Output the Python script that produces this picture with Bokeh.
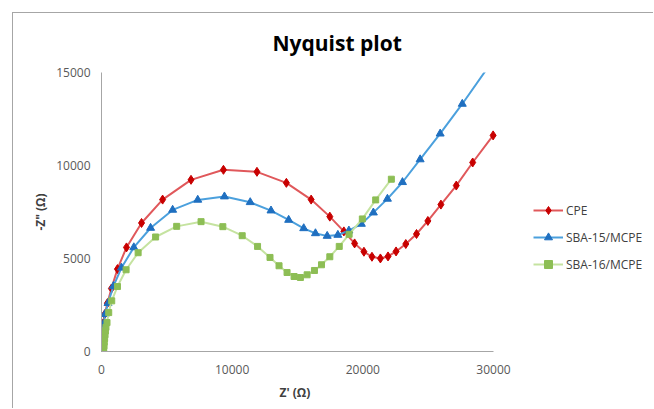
from bokeh.plotting import figure
from bokeh.models import Legend, LegendItem, Range1d, SingleIntervalTicker, Title
from bokeh.embed import file_html
from bokeh.resources import INLINE

# ---- data ----
cpe_x = [0, 40, 92, 246, 453, 760, 1221, 1912, 3064, 4677, 6851, 9333, 11897,
         14148, 16045, 17473, 18548, 19370, 20084, 20699, 21344, 21928, 22543,
         23287, 24109, 24977, 25976, 27151, 28407, 29971]
cpe_y = [0, 750, 1482, 2005, 2598, 3386, 4431, 5596, 6911, 8167, 9229, 9768, 9660,
         9067, 8167, 7251, 6458, 5811, 5364, 5094, 5003, 5111, 5380,
         5779, 6318, 7019, 7898, 8922, 10162, 11619]

sba15_x = [0, 15, 38, 169, 269, 499, 914, 1528, 2473, 3756, 5445, 7365, 9409,
           11382, 12972, 14324, 15476, 16375, 17273, 18088, 18932, 19885, 20806,
           21882, 23034, 24385, 25918, 27610, 30300]
sba15_y = [0, 450, 960, 1499, 2005, 2598, 3515, 4501, 5596, 6641, 7612, 8151, 8329,
           8022, 7574, 7071, 6621, 6351, 6210, 6264, 6496, 6857, 7466,
           8205, 9100, 10324, 11709, 13309, 16000]

sba16_x = [150, 170, 190, 210, 240, 270, 300, 340, 422, 553, 783, 1221, 1882, 2803,
           4140, 5753, 7619, 9286, 10768, 11943, 12896, 13587, 14201, 14739, 15223,
           15737, 16298, 16836, 17473, 18195, 18950, 19962, 20983, 22183]
sba16_y = [0, 150, 300, 500, 700, 900, 1100, 1300, 1553, 2092, 2722, 3493, 4394, 5310,
           6156, 6728, 6981, 6712, 6226, 5650, 5057, 4609, 4248, 4032, 3978,
           4124, 4356, 4663, 5094, 5650, 6300, 7127, 8151, 9263]

series_names = ["CPE", "SBA-15/MCPE", "SBA-16/MCPE"]
x_max, y_max = 30000, 15000

FONT = "Open Sans"

# the frame reaches the right edge so the legend is not clipped; the x axis
# itself is bounded to 0..30000 (392 px)
W, H = 641, 396
LEFT = 88
x_end = x_max * (W - LEFT) / 392.0

p = figure(width=W, height=H, output_backend="svg", toolbar_location=None,
           x_range=Range1d(0, x_end), y_range=Range1d(0, y_max),
           min_border_left=LEFT, min_border_right=0,
           min_border_top=59, min_border_bottom=58,
           title="Nyquist plot")
p.margin = (12, 0, 0, 12)
p.styles = {"border-left": "1px solid #a6a6a6", "border-top": "1px solid #a6a6a6"}

p.title.text_font = FONT
p.title.text_font_size = "21px"
p.title.text_font_style = "bold"
p.title.text_color = "#000000"
p.title.align = "left"
p.title.offset = 171
p.title.vertical_align = "middle"
p.title.standoff = 29

p.outline_line_color = None
p.xgrid.grid_line_color = None
p.ygrid.grid_line_color = None
p.background_fill_color = "white"
p.border_fill_color = "white"

p.xaxis.ticker = SingleIntervalTicker(interval=10000)
p.yaxis.ticker = SingleIntervalTicker(interval=5000)
p.xaxis.bounds = (0, x_max)
for ax in (p.xaxis, p.yaxis):
    ax.axis_line_color = "#a6a6a6"
    ax.axis_line_width = 1
    ax.major_tick_line_color = None
    ax.minor_tick_line_color = None
    ax.major_label_text_font = FONT
    ax.major_label_text_font_size = "12px"
    ax.major_label_text_color = "#595959"
    ax.axis_label_text_font = FONT
    ax.axis_label_text_font_size = "12px"
    ax.axis_label_text_font_style = "bold"
    ax.axis_label_text_color = "#404040"

p.yaxis.axis_label = '-Z" (Ω)'
p.xaxis.major_label_standoff = 7
p.yaxis.major_label_standoff = 5
p.yaxis.axis_label_standoff = 4

# x axis title, centred under the 0..30000 axis
xt = Title(text="Z' (Ω)", align="left", offset=178, vertical_align="top",
           standoff=14, text_font=FONT, text_font_size="12px",
           text_font_style="bold", text_color="#404040")
p.add_layout(xt, "below")

styles = [
    (cpe_x, cpe_y, "#e0585b", "#c80000", "diamond", 9),
    (sba15_x, sba15_y, "#4ba0dd", "#1f6fc0", "triangle", 8),
    (sba16_x, sba16_y, "#c5e3a0", "#8dbe55", "square", 6),
]

items = []
for name, (xs, ys, lc, mc, mk, sz) in zip(series_names, styles):
    rl = p.line(xs, ys, line_color=lc, line_width=2)
    rs = p.scatter(xs, ys, marker=mk, size=sz, fill_color=mc, line_color=mc)
    items.append(LegendItem(label=name, renderers=[rl, rs]))

legend = Legend(items=items, location=(432, 77), glyph_width=30, glyph_height=20,
                label_height=20, spacing=7, padding=0, margin=0,
                border_line_color=None, background_fill_alpha=0,
                label_text_font=FONT, label_text_font_size="12px",
                label_text_color="#404040", label_standoff=3)
p.add_layout(legend)

open("out.html", "w").write(file_html(p, INLINE))
